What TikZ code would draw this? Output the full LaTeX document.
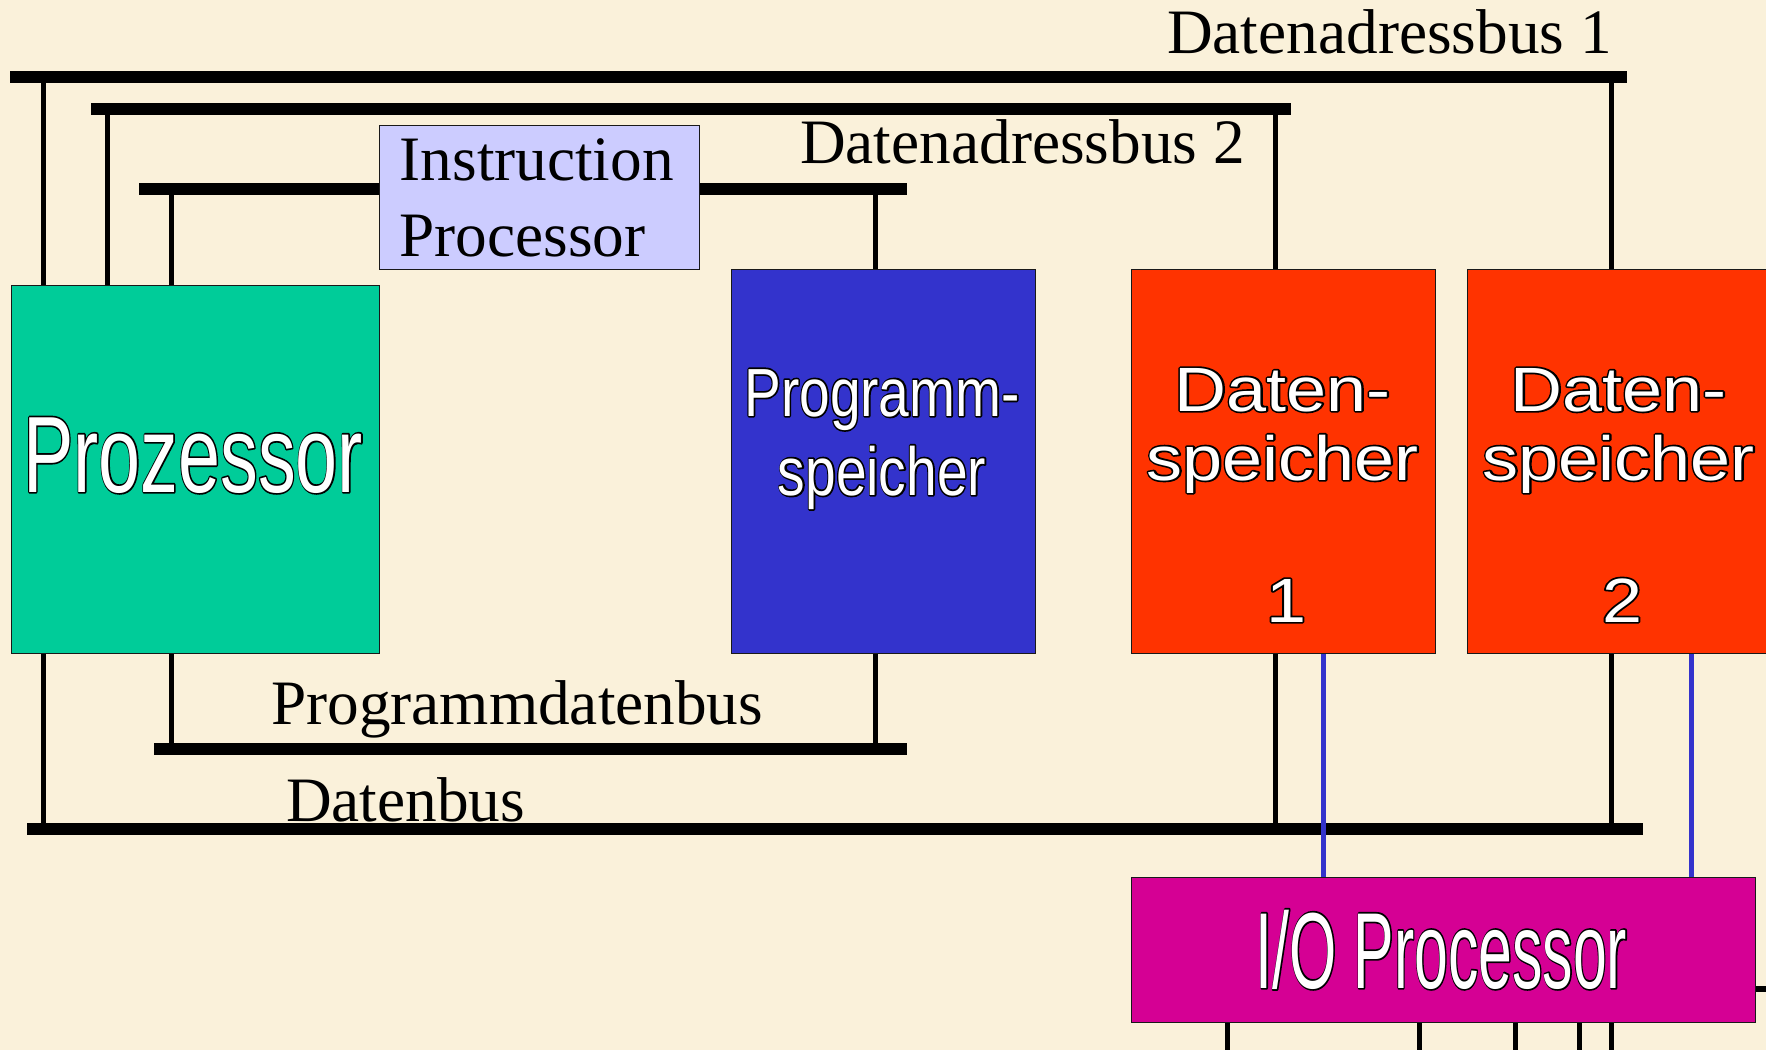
\documentclass[tikz,border=0pt]{standalone}
\usepackage{fontspec}
\setmainfont{Liberation Serif}
\newfontfamily\boxfont{Liberation Sans}
\usepackage{graphicx}

\definecolor{paper}{RGB}{250,241,218}
\definecolor{cpucol}{RGB}{0,204,153}
\definecolor{ipcol}{RGB}{204,204,255}
\definecolor{progcol}{RGB}{51,51,204}
\definecolor{datacol}{RGB}{255,51,0}
\definecolor{iocol}{RGB}{213,0,148}
\definecolor{linkblue}{RGB}{51,51,204}

% white letters with a thin black outline, stretched horizontally by #1:
% a black stroked copy underneath, the white letters on top
\newcommand\outlinedtext[2]{\scalebox{#1}[1]{%
  \rlap{\color{black}\special{pdf:literal direct 1 j 2 Tr 3.4 w}#2\special{pdf:literal direct 0 Tr}}#2}}

\begin{document}
\begin{tikzpicture}[x=1bp,y=-1bp,
  bus/.style={line width=12bp, black},
  tap/.style={line width=5bp, black},
  iolink/.style={line width=5bp, linkblue},
  unit/.style={rectangle, draw=black!90, line width=1.4bp, inner sep=0pt, anchor=north west},
  buslabel/.style={font=\fontsize{63.5}{76}\selectfont, inner sep=0pt, anchor=base west},
  wtxt/.style={text=white, inner sep=0pt, anchor=base}]

\useasboundingbox (0,0) rectangle (1766,1050);
\clip (0,0) rectangle (1766,1050);
\fill[paper] (0,0) rectangle (1766,1050);

% bus end points
\coordinate (b1w) at (10,77);    \coordinate (b1e) at (1627,77);
\coordinate (b2w) at (91,109);   \coordinate (b2e) at (1291,109);
\coordinate (b3w) at (139,189);  \coordinate (b3e) at (907,189);
\coordinate (pdw) at (154,749);  \coordinate (pde) at (907,749);
\coordinate (dbw) at (27,829);   \coordinate (dbe) at (1643,829);

% buses (drawn first so the boxes sit on top)
\draw[bus] (b1w) -- (b1e);
\draw[bus] (b2w) -- (b2e);
\draw[bus] (b3w) -- (b3e);
\draw[bus] (pdw) -- (pde);
\draw[bus] (dbw) -- (dbe);

% units
\node[unit, fill=cpucol, minimum width=368.5bp, minimum height=368bp] (proz) at (10.5,285) {};
\node[unit, fill=ipcol, minimum width=320bp, minimum height=144bp, align=left,
      text width=280bp, inner xsep=20bp,
      font=\fontsize{63.5}{76}\selectfont] (ip) at (379,125) {Instruction\\Processor};
\node[unit, fill=progcol, minimum width=304bp, minimum height=384bp] (pspe) at (731,269) {};
\node[unit, fill=datacol, minimum width=304bp, minimum height=384bp] (ds1) at (1131,269) {};
\node[unit, fill=datacol, minimum width=304bp, minimum height=384bp] (ds2) at (1467,269) {};
\node[unit, fill=iocol, minimum width=624bp, minimum height=145bp] (io) at (1131,877) {};

% box inscriptions
\node[wtxt, font=\boxfont\fontsize{109}{109}\selectfont] (proztxt) at (193,492)
  {\outlinedtext{0.695}{Prozessor}};
\node[wtxt, font=\boxfont\fontsize{68.4}{68.4}\selectfont] (pspetxta) at (882,416)
  {\outlinedtext{0.808}{Programm-}};
\node[wtxt, font=\boxfont\fontsize{68.4}{68.4}\selectfont] (pspetxtb) at (882,495)
  {\outlinedtext{0.808}{speicher}};
\foreach \n/\dx/\num in {ds1/0/1, ds2/336/2}{
  \node[wtxt, font=\boxfont\fontsize{62.8}{62.8}\selectfont] (\n txta) at (1282.5+\dx,411)
    {\outlinedtext{1.15}{Daten-}};
  \node[wtxt, font=\boxfont\fontsize{62.8}{62.8}\selectfont] (\n txtb) at (1282.5+\dx,480)
    {\outlinedtext{1.15}{speicher}};
  \node[wtxt, font=\boxfont\fontsize{62.8}{62.8}\selectfont] (\n txtc) at (1286+\dx,622)
    {\outlinedtext{1.15}{\num}};
}
\node[wtxt, font=\boxfont\fontsize{108.5}{108.5}\selectfont] (iotxt) at (1441.5,988)
  {\outlinedtext{0.562}{I/O Processor}};

% bus labels
\node[buslabel] (lab1) at (1167,53) {Datenadressbus 1};
\node[buslabel] (lab2) at (800,163) {Datenadressbus 2};
\node[buslabel] (lab3) at (271,724) {Programmdatenbus};
\node[buslabel] (lab4) at (286,821) {Datenbus};

% taps from the buses to the units
\coordinate (tA) at (43,0);  \coordinate (tB) at (107,0);  \coordinate (tC) at (171,0);
\coordinate (tD) at (875,0); \coordinate (tE) at (1275,0); \coordinate (tF) at (1611,0);

\draw[tap] (tA |- b1w) -- (tA |- proz.north);
\draw[tap] (tA |- proz.south) -- (tA |- dbw);
\draw[tap] (tB |- b2w) -- (tB |- proz.north);
\draw[tap] (tC |- b3w) -- (tC |- proz.north);
\draw[tap] (tC |- proz.south) -- (tC |- pdw);
\draw[tap] (tD |- b3w) -- (tD |- pspe.north);
\draw[tap] (tD |- pspe.south) -- (tD |- pdw);
\draw[tap] (tE |- b2w) -- (tE |- ds1.north);
\draw[tap] (tE |- ds1.south) -- (tE |- dbw);
\draw[tap] (tF |- b1w) -- (tF |- ds2.north);
\draw[tap] (tF |- ds2.south) -- (tF |- dbw);

% links from the data memories to the I/O processor
\coordinate (lA) at (1323,0); \coordinate (lB) at (1691,0);
\draw[iolink] (lA |- ds1.south) -- (lA |- io.north);
\draw[iolink] (lB |- ds2.south) -- (lB |- io.north);

% I/O lines leaving the I/O processor
\foreach \xo [count=\i] in {1227,1419,1515,1579,1611}{
  \coordinate (out\i) at (\xo,1050);
  \draw[tap] (out\i |- io.south) -- (out\i);
}
\coordinate (outE) at (1766,989);
\draw[line width=6bp] (io.east |- outE) -- (outE);
\end{tikzpicture}
\end{document}
